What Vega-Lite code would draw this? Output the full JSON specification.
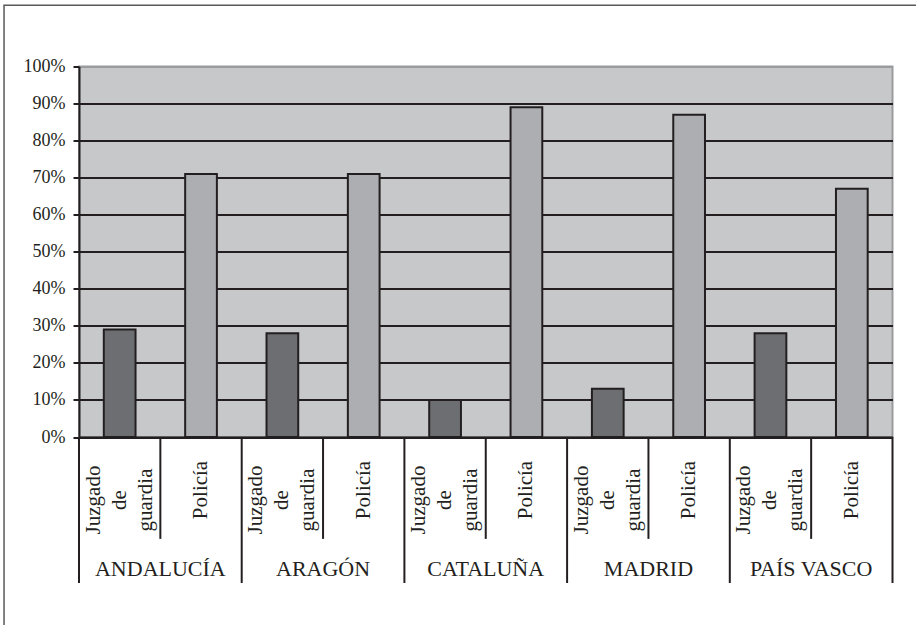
{
  "$schema": "https://vega.github.io/schema/vega-lite/v6.json",
  "autosize": {"type": "none"},
  "padding": {"left": 79, "top": 66.5, "right": 23.5, "bottom": 188},
  "width": 813.5,
  "height": 370.5,
  "config": {
    "view": {"fill": "#c7c8ca", "stroke": "#9a9b9d", "strokeWidth": 2},
    "font": "Liberation Serif",
    "text": {"font": "Liberation Serif", "color": "#231f20"},
    "axisX": {
      "title": null, "labels": false, "ticks": false, "grid": false,
      "domain": true, "domainColor": "#231f20", "domainWidth": 2
    },
    "axisY": {
      "title": null, "tickCount": 11, "labelOverlap": false,
      "labelFont": "Liberation Serif", "labelFontSize": 18, "labelColor": "#231f20",
      "labelPadding": 8,
      "domain": true, "domainColor": "#231f20", "domainWidth": 2,
      "ticks": true, "tickSize": 6, "tickWidth": 2, "tickColor": "#231f20",
      "grid": true, "gridWidth": 2, "gridOpacity": 1, "gridColor": "#231f20"
    }
  },
  "resolve": {"axis": {"x": "independent", "y": "independent"}},
  "data": {
    "values": [
      {"region": "ANDALUCÍA", "tipo": "Juzgado de guardia", "pct": 29},
      {"region": "ANDALUCÍA", "tipo": "Policía", "pct": 71},
      {"region": "ARAGÓN", "tipo": "Juzgado de guardia", "pct": 28},
      {"region": "ARAGÓN", "tipo": "Policía", "pct": 71},
      {"region": "CATALUÑA", "tipo": "Juzgado de guardia", "pct": 10},
      {"region": "CATALUÑA", "tipo": "Policía", "pct": 89},
      {"region": "MADRID", "tipo": "Juzgado de guardia", "pct": 13},
      {"region": "MADRID", "tipo": "Policía", "pct": 87},
      {"region": "PAÍS VASCO", "tipo": "Juzgado de guardia", "pct": 28},
      {"region": "PAÍS VASCO", "tipo": "Policía", "pct": 67}
    ]
  },
  "transform": [
    {"calculate": "datum.region + ' · ' + datum.tipo", "as": "columna"}
  ],
  "layer": [
    {
      "mark": {"type": "bar", "width": {"band": 0.39}, "stroke": "#231f20", "strokeWidth": 2},
      "encoding": {
        "x": {
          "field": "columna", "type": "nominal", "sort": null,
          "scale": {"type": "band", "paddingInner": 0, "paddingOuter": 0}
        },
        "y": {
          "field": "pct", "type": "quantitative",
          "scale": {"domain": [0, 100], "nice": false},
          "axis": {
            "values": [0, 10, 20, 30, 40, 50, 60, 70, 80, 90, 100],
            "tickCount": 11,
            "labelExpr": "datum.value + '%'",
            "gridColor": {"condition": {"test": "datum.value === 100", "value": "#9a9b9d"}, "value": "#231f20"}
          }
        },
        "fill": {
          "field": "tipo", "type": "nominal",
          "scale": {"domain": ["Juzgado de guardia", "Policía"], "range": ["#6d6e71", "#adaeb1"]},
          "legend": null
        }
      }
    },
    {
      "transform": [{"filter": "datum.tipo === 'Juzgado de guardia'"}],
      "mark": {"type": "rule", "stroke": "#231f20", "strokeWidth": 2},
      "encoding": {
        "x": {"field": "columna", "type": "nominal", "sort": null, "bandPosition": 0, "axis": null},
        "y": {"datum": 0, "type": "quantitative", "axis": null},
        "y2": {"datum": -39.4}
      }
    },
    {
      "transform": [{"filter": "datum.region === 'PAÍS VASCO' && datum.tipo === 'Policía'"}],
      "mark": {"type": "rule", "stroke": "#231f20", "strokeWidth": 2},
      "encoding": {
        "x": {"field": "columna", "type": "nominal", "sort": null, "bandPosition": 1, "axis": null},
        "y": {"datum": 0, "type": "quantitative", "axis": null},
        "y2": {"datum": -39.4}
      }
    },
    {
      "transform": [{"filter": "datum.tipo === 'Policía'"}],
      "mark": {"type": "rule", "stroke": "#231f20", "strokeWidth": 2},
      "encoding": {
        "x": {"field": "columna", "type": "nominal", "sort": null, "bandPosition": 0, "axis": null},
        "y": {"datum": 0, "type": "quantitative", "axis": null},
        "y2": {"datum": -27.5}
      }
    },
    {
      "transform": [{"filter": "datum.tipo === 'Juzgado de guardia'"}],
      "mark": {"type": "text", "angle": 270, "lineBreak": " ", "lineHeight": 26, "fontSize": 21, "align": "center", "baseline": "middle", "dy": -26},
      "encoding": {
        "x": {"field": "columna", "type": "nominal", "sort": null, "axis": null},
        "y": {"datum": -17, "type": "quantitative", "axis": null},
        "text": {"field": "tipo", "type": "nominal"}
      }
    },
    {
      "transform": [{"filter": "datum.tipo === 'Policía'"}],
      "mark": {"type": "text", "angle": 270, "fontSize": 21, "align": "center", "baseline": "middle"},
      "encoding": {
        "x": {"field": "columna", "type": "nominal", "sort": null, "axis": null},
        "y": {"datum": -14.3, "type": "quantitative", "axis": null},
        "text": {"field": "tipo", "type": "nominal"}
      }
    },
    {
      "transform": [{"filter": "datum.tipo === 'Juzgado de guardia'"}],
      "mark": {"type": "text", "fontSize": 22, "align": "center", "baseline": "alphabetic"},
      "encoding": {
        "x": {"field": "columna", "type": "nominal", "sort": null, "bandPosition": 1, "axis": null},
        "y": {"datum": -37.5, "type": "quantitative", "axis": null},
        "text": {"field": "region", "type": "nominal"}
      }
    },
    {
      "data": {"values": [{}]},
      "mark": {"type": "bar", "width": {"band": 12.843}, "fill": null, "fillOpacity": 0, "stroke": "#58595b", "strokeWidth": 1.5},
      "encoding": {
        "x": {"datum": "CATALUÑA · Policía", "type": "nominal", "axis": null},
        "y": {"datum": 116.5, "type": "quantitative", "axis": null},
        "y2": {"datum": -52}
      }
    }
  ]
}
